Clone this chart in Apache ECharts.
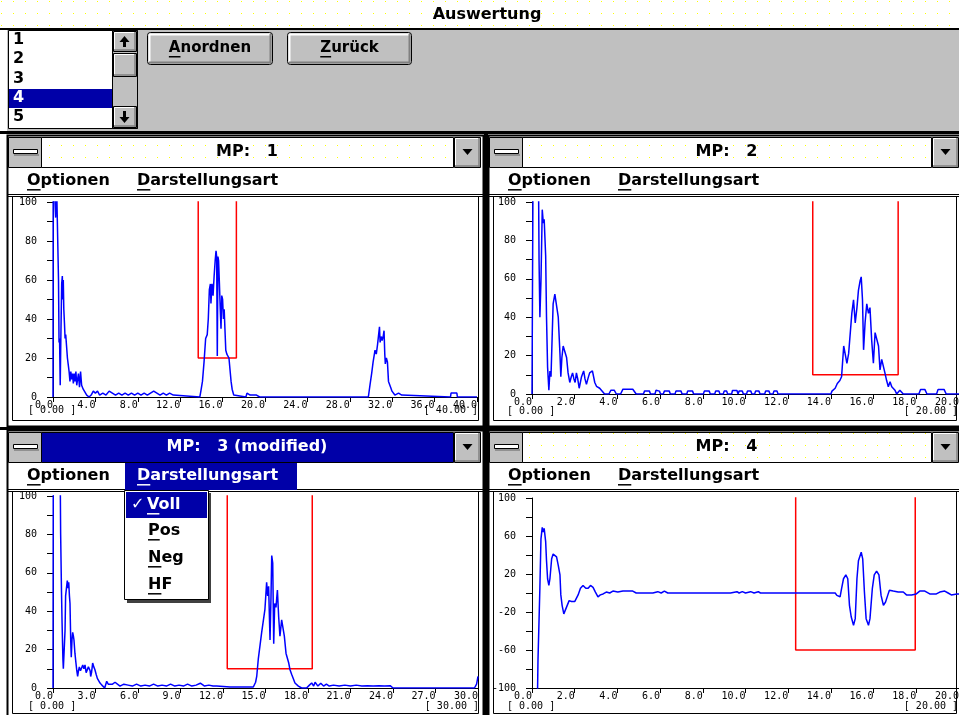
<!DOCTYPE html>
<html>
<head>
<meta charset="utf-8">
<title>Auswertung</title>
<script src="https://cdn.jsdelivr.net/npm/echarts@6/dist/echarts.min.js"></script>
<style>
html, body { margin: 0; padding: 0; background: #fff; }
#main { width: 959px; height: 715px; }
</style>
</head>
<body>
<div id="main"></div>
<script>
// ---- data ----
var listItems = ['1', '2', '3', '4', '5'];
var panelTitles = ['MP:   1', 'MP:   2', 'MP:   3 (modified)', 'MP:   4'];
var menuItems = ['Voll', 'Pos', 'Neg', 'HF'];

var xMaxes = [40, 20, 30, 20];
var xSteps = [4, 2, 3, 2];
var yMins = [0, 0, 0, -100];
var yMaxes = [100, 100, 100, 100];
var yTickSteps = [10, 10, 10, 20];
var yLabelSteps = [20, 20, 20, 40];

var boxLeft = [13.7, 13.15, 12.3, 12.35];
var boxRight = [17.3, 17.15, 18.3, 17.95];
var boxBottom = [20, 10, 10, -60];

var mp1Signal = [
  [0,0],[0.02,120],[0.2,120],[0.25,92],[0.3,120],[0.48,120],[0.52,60],[0.57,28],[0.62,30],[0.68,6],
  [0.74,30],[0.82,58],[0.88,62],[0.93,50],[0.97,60],[1.02,45],[1.08,38],[1.14,30],[1.2,32],[1.28,26],
  [1.36,20],[1.45,21],[1.52,13],[1.6,8],[1.68,13],[1.76,9],[1.84,12],[1.92,7],[2.0,12],[2.08,8],
  [2.16,13],[2.24,6],[2.32,9],[2.4,12],[2.5,5],[2.6,13],[2.7,6],[2.85,4],[3.0,3],[3.18,1],[3.4,0],
  [3.6,1],[3.8,3],[4.0,2],[4.2,3],[4.4,1],[4.7,2],[5.0,1],[5.3,3],[5.6,2],[5.9,1],[6.2,2],[6.5,1],
  [6.8,2],[7.1,1],[7.4,2],[7.7,1],[8.0,2],[8.3,1],[8.6,2],[8.9,1],[9.2,2],[9.5,3],[9.8,2],[10.1,1],
  [10.4,2],[10.7,1],[11.0,2],[11.35,1],[11.4,0],[13.85,0],
  [13.95,3],[14.1,8],[14.25,18],[14.4,30],[14.55,32],[14.65,40],[14.75,55],[14.85,58],[14.9,48],
  [15.0,58],[15.1,52],[15.2,62],[15.3,70],[15.38,75],[15.44,72],[15.5,21],[15.56,72],[15.62,70],
  [15.7,58],[15.78,45],[15.85,35],[15.92,52],[16.0,50],[16.08,40],[16.15,45],[16.22,35],[16.3,24],
  [16.4,22],[16.5,23],[16.6,20],[16.7,14],[16.8,8],[16.9,4],[17.05,1],[17.2,0],
  [18.2,0],[18.3,2],[18.45,3],[18.6,1],[18.75,2],[18.9,1],[19.05,2],[19.2,1],[19.35,2],[19.5,0],
  [29.75,0],[29.9,6],[30.06,12],[30.2,18],[30.38,24],[30.5,22],[30.62,27],[30.72,26],[30.8,36],
  [30.86,28],[30.95,31],[31.05,29],[31.15,31],[31.23,34],[31.3,22],[31.35,17],[31.45,20],[31.55,18],
  [31.65,8],[31.75,7],[31.85,5],[31.98,3],[32.1,2],[32.25,1],[32.42,0],[32.6,2],[32.75,3],[32.9,1],
  [33.05,0],[37.5,0],[37.55,2],[38.1,2],[38.15,0],[40,0]
];

var mp2Signal = [
  [0,0],[0.05,120],[0.3,120],[0.33,70],[0.37,40],[0.42,59],[0.48,96],[0.53,89],[0.57,91],[0.64,72],
  [0.68,40],[0.73,14],[0.79,2],[0.84,12],[0.89,9],[0.95,32],[0.99,47],[1.07,52],[1.15,51],[1.23,40],
  [1.31,21],[1.35,9],[1.4,19],[1.46,25],[1.54,26],[1.62,19],[1.69,11],[1.77,6],[1.84,9],[1.9,11],
  [1.96,8],[2.02,6],[2.08,11],[2.14,8],[2.21,3],[2.32,9],[2.42,12],[2.48,8],[2.55,5],[2.62,8],
  [2.7,11],[2.76,12],[2.83,12],[2.94,6],[3.02,4],[3.09,5],[3.17,3],[3.25,2],[3.4,0],[3.6,0],[3.7,2],
  [3.85,2],[3.95,0],[4.15,0],[4.26,2.5],[4.72,2.5],[4.88,0],[5.22,0],[5.27,1.5],[5.5,1.5],[5.55,0],
  [5.76,0],[5.81,2],[5.97,1.5],[6.02,0],[6.15,0],[6.2,1.5],[6.43,1.5],[6.48,0],[6.7,0],[6.74,1.5],
  [6.98,1.5],[7.03,0],[7.25,0],[7.29,1.5],[7.52,1.5],[7.57,0],[8.03,0],[8.07,1.5],[8.3,1.5],[8.35,0],
  [8.56,0],[8.6,1.5],[8.76,1.5],[8.8,0],[8.96,0],[9.0,1.5],[9.12,1.5],[9.16,0],[9.35,0],[9.39,1.8],
  [9.6,1.8],[9.65,0],[9.7,1.5],[9.85,1.5],[9.9,0],[10.05,0],[10.09,1.5],[10.25,1.5],[10.3,0],
  [10.43,0],[10.47,1.5],[10.63,1.5],[10.68,0],[10.9,0],[10.94,1.5],[11.1,1.5],[11.15,0],[11.29,0],
  [11.33,1.5],[11.48,1.5],[11.52,0],[14.0,0],
  [14.05,1.5],[14.2,3],[14.3,5.5],[14.42,7],[14.5,9],[14.6,25],[14.67,26],[14.75,16],[14.83,21],
  [14.98,42],[15.06,49],[15.14,37],[15.22,45],[15.29,54],[15.37,59],[15.42,61],[15.48,49],[15.53,23],
  [15.6,37],[15.68,47],[15.76,42],[15.83,45],[15.91,28],[15.99,16],[16.07,32],[16.15,32],[16.23,25],
  [16.3,12.5],[16.38,18],[16.46,18],[16.53,11],[16.61,7],[16.69,3.8],[16.77,6.4],[16.85,3.8],[17.0,2],
  [17.08,0],[17.16,0],[17.23,2],[17.3,2],[17.39,0],[18.12,0],[18.2,2.4],[18.4,2.4],[18.5,0],[18.95,0],
  [19.02,2.4],[19.3,2.4],[19.4,0],[20,0]
];

var mp3Signal = [
  [0,0],[0.02,120],[0.5,120],[0.54,80],[0.6,50],[0.64,34],[0.7,15],[0.73,10],[0.8,10],[0.85,30],
  [0.89,48],[0.95,52],[1.01,56],[1.06,52],[1.11,55],[1.16,48],[1.2,44],[1.25,25],[1.29,16],[1.34,25],
  [1.39,29],[1.44,27],[1.48,25],[1.55,18],[1.62,13],[1.68,9],[1.74,6],[1.8,9],[1.86,11],[1.94,9],
  [2.02,9.5],[2.1,12],[2.18,10],[2.26,12],[2.34,8],[2.42,8],[2.5,11],[2.56,12],[2.62,9],[2.66,6],
  [2.72,8],[2.8,13],[2.88,11],[2.96,9.5],[3.05,7],[3.13,5],[3.22,4],[3.32,2.6],[3.45,1.5],[3.55,1],
  [3.65,0],[3.79,3.5],[3.9,2],[4.02,1],[4.2,2],[4.38,3],[4.55,2],[4.73,1],[5.0,2],[5.3,1.5],[5.6,1],
  [5.9,2],[6.2,1],[6.5,1.5],[6.8,1],[7.1,2],[7.4,1],[7.7,1.5],[8.0,1],[8.3,2],[8.6,1],[8.9,1.5],
  [9.2,1],[9.5,2],[9.8,1],[10.1,1.5],[10.4,2.5],[10.7,1],[11.0,1.5],[11.3,1],[11.55,1],[12.5,0.5],
  [14.14,0.5],
  [14.3,3],[14.38,6],[14.49,15],[14.6,16],[14.73,29],[14.85,29],[14.96,41],[15.08,55],[15.15,48],
  [15.22,53],[15.32,25],[15.39,48],[15.44,69],[15.51,65],[15.58,23],[15.65,44],[15.74,42],[15.84,51],
  [15.93,37],[16.02,27],[16.14,35.5],[16.26,35],[16.33,27],[16.45,18],[16.54,18],[16.64,13],
  [16.73,9.5],[16.85,7],[16.96,6],[17.08,2.6],[17.32,1],[17.55,0],[17.9,0],[18.1,1.5],[18.26,2.6],
  [18.4,1],[18.5,3],[18.7,1],[18.9,2.5],[19.1,1],[19.3,2],[19.5,1],[19.8,1.5],[20.2,1],[20.6,1.5],
  [21.0,1],[21.4,1.5],[21.8,1],[22.2,1.2],[22.6,1],[23.0,1.2],[23.4,1],[23.8,1.2],[24.0,0],
  [29.75,0],[29.9,2],[30,6]
];

var mp4Signal = [
  [0.25,-120],[0.28,-71],[0.33,-71],[0.37,6],[0.42,57],[0.48,69],[0.53,64],[0.57,68],[0.64,54],
  [0.68,34],[0.73,15],[0.79,8],[0.84,15],[0.92,36],[0.99,41],[1.07,43],[1.15,38],[1.23,29],[1.31,19],
  [1.35,-2],[1.41,-13],[1.49,-22],[1.57,-20],[1.65,-13],[1.74,-8],[1.85,-9],[2.0,-9],[2.08,-9],
  [2.16,-2],[2.27,5],[2.39,8],[2.52,5],[2.63,5],[2.74,8],[2.86,6],[2.97,1],[3.09,-4],[3.2,-2],
  [3.33,-1],[3.48,1],[3.64,0],[3.79,2],[4.02,1],[4.26,2],[4.72,2],[4.88,0],[5.66,0],[5.89,1.4],
  [6.05,0],[6.2,2],[6.36,0],[7.99,0],[8.07,1.4],[8.14,0],[9.3,0],[9.39,1.4],[9.6,1.4],[9.7,0],
  [9.85,1.4],[10.0,0],[10.24,1.4],[10.4,0],[10.6,1.4],[10.7,0],[14.2,0],[14.28,-2.5],[14.43,-4],
  [14.5,4.5],[14.59,15],[14.7,19],[14.79,15],[14.87,-13],[14.95,-25],[15.06,-34],[15.14,-27],
  [15.22,15],[15.29,34],[15.42,43],[15.49,36],[15.57,1],[15.65,-27],[15.76,-34],[15.83,-27],
  [15.94,4.5],[16.03,19],[16.14,23],[16.25,19],[16.35,-2.5],[16.46,-13],[16.56,-9.5],[16.66,-2.5],
  [16.74,3],[16.92,2],[17.15,1],[17.39,1],[17.54,-2],[17.78,-2],[18.0,-1],[18.16,2],[18.4,2],
  [18.63,-1],[18.94,-1],[19.1,1],[19.33,2],[19.49,0],[19.64,-2],[19.9,-1],[20,-1]
];

var signals = [mp1Signal, mp2Signal, mp3Signal, mp4Signal];

// ---- layout ----
var grids = [
  { left: 53, top: 202, width: 424, height: 195 },
  { left: 532, top: 202, width: 427, height: 192 },
  { left: 53, top: 496, width: 425, height: 192 },
  { left: 532, top: 498, width: 427, height: 190 }
];
var rangeLabelY = [410, 411, 706, 706];

var BOLD16 = 'bold 16px "DejaVu Sans"';
var BOLD15 = 'bold 15px "DejaVu Sans"';
var MONO = '"DejaVu Sans Mono"';

var mctx = document.createElement('canvas').getContext('2d');
function tw(str, font) { mctx.font = font; return mctx.measureText(str).width; }

var dotCanvas = document.createElement('canvas');
dotCanvas.width = 12; dotCanvas.height = 12;
var dctx = dotCanvas.getContext('2d');
dctx.fillStyle = '#ffffff'; dctx.fillRect(0, 0, 12, 12);
dctx.fillStyle = '#ffff00'; dctx.fillRect(1, 1, 1, 1);
var dotted = { image: dotCanvas, repeat: 'repeat' };

var G = [];
function R(x, y, w, h, fill, stroke, z, lw, r) {
  G.push({ type: 'rect', silent: true, z: z == null ? -5 : z,
    shape: { x: x, y: y, width: w, height: h, r: r || 0 },
    style: { fill: fill || 'none', stroke: stroke || 'none', lineWidth: lw || 1 } });
}
function L(x1, y1, x2, y2, color, w, z) {
  G.push({ type: 'line', silent: true, z: z == null ? -4 : z,
    shape: { x1: x1, y1: y1, x2: x2, y2: y2 }, style: { stroke: color, lineWidth: w || 1 } });
}
function P(points, color, z) {
  G.push({ type: 'polygon', silent: true, z: z == null ? -3 : z,
    shape: { points: points }, style: { fill: color } });
}
function T(x, y, str, font, color, align, z) {
  G.push({ type: 'text', silent: true, z: z == null ? -2 : z, x: x, y: y,
    style: { text: str, font: font, fill: color, align: align || 'left', textAlign: align || 'left',
      verticalAlign: 'middle', textVerticalAlign: 'middle' } });
}
// text with the first letter underlined, left aligned at x
function UT(x, y, str, font, color, z, size) {
  T(x, y, str, font, color, 'left', z);
  L(x, y + size * 0.55, x + tw(str.charAt(0), font), y + size * 0.55, color, 1.5, z);
}
function bevel(x, y, w, h, z) {
  z = z == null ? -4 : z;
  R(x + 0.5, y + 0.5, w - 1, h - 1, '#c0c0c0', '#000', z);
  L(x + 1.5, y + 1.5, x + w - 2, y + 1.5, '#fff', 1, z + 0.1);
  L(x + 1.5, y + 1.5, x + 1.5, y + h - 2, '#fff', 1, z + 0.1);
  L(x + 1, y + h - 2, x + w - 1, y + h - 2, '#808080', 1.5, z + 0.1);
  L(x + w - 2, y + 1, x + w - 2, y + h - 1, '#808080', 1.5, z + 0.1);
}
function button(x, y, w, h, label) {
  R(x + 0.5, y + 0.5, w - 1, h - 1, '#c0c0c0', '#000', -5, 1, 3);
  L(x + 2, y + 2.5, x + w - 3, y + 2.5, '#fff', 2);
  L(x + 2.5, y + 2, x + 2.5, y + h - 3, '#fff', 2);
  L(x + 2, y + h - 2.5, x + w - 2, y + h - 2.5, '#808080', 2);
  L(x + w - 2.5, y + 2, x + w - 2.5, y + h - 2, '#808080', 2);
  var left = x + w / 2 - tw(label, BOLD15) / 2;
  UT(left, y + h / 2, label, BOLD15, '#000', -2, 15);
}

// main title bar and form area
R(0, 0, 959, 28, dotted, null, -8);
T(487, 15, 'Auswertung', BOLD16, '#000', 'center');
R(0, 28, 959, 2, '#000', null, -7);
R(7, 30, 952, 101, '#c0c0c0', null, -8);
R(0, 131, 959, 3, '#000', null, -7);

// list box
R(8.5, 30.5, 129, 98, '#fff', '#000', -6);
R(9, 89, 103, 19, '#0000a8', null, -5);
listItems.forEach(function (s, i) {
  T(13, 40 + i * 19.2, s, BOLD16, i === 3 ? '#fff' : '#000', 'left');
});
R(112.5, 30.5, 25, 98, '#c0c0c0', '#000', -5);
bevel(113, 31, 24, 21);
bevel(113, 53, 24, 24);
bevel(113, 106, 24, 22);
P([[124.5, 36], [119.5, 42], [129.5, 42]], '#000');
R(123, 42, 3, 5, '#000', null, -3);
P([[119.5, 117], [129.5, 117], [124.5, 123]], '#000');
R(123, 111, 3, 6, '#000', null, -3);

button(147, 32, 126, 33, 'Anordnen');
button(287, 32, 125, 33, 'Zurück');

// MDI child windows
function win(x0, y0, x1, y1, idx, active) {
  R(x0 + 0.5, y0 + 0.5, x1 - x0 - 1, y1 - y0 - 1, '#fff', '#000', -9, 2);
  R(x0 + 34.5, y0 + 2.5, x1 - x0 - 65, 30, active ? '#0000a8' : dotted, '#000', -8);
  var cx = (x0 + 34 + x1 - 31) / 2;
  T(cx, y0 + 17, panelTitles[idx], BOLD16, active ? '#fff' : '#000', 'center');
  R(x0 + 1.5, y0 + 2.5, 33, 30, '#c0c0c0', '#000', -7);
  R(x0 + 6.5, y0 + 14.5, 24, 4, '#fff', '#000', -6);
  L(x0 + 7, y0 + 20, x0 + 32, y0 + 20, '#808080', 1.5, -6);
  bevel(x1 - 30, y0 + 2, 27, 31);
  var tx = x1 - 16.5, ty = y0 + 17;
  P([[tx - 5, ty - 3], [tx + 5, ty - 3], [tx, ty + 3]], '#000');
  L(x0 + 1, y0 + 59.5, x1 - 1, y0 + 59.5, '#000', 1, -6);
  L(x0 + 1, y0 + 61.5, x1 - 1, y0 + 61.5, '#000', 1, -6);
  if (active) R(x0 + 118, y0 + 33, 172, 27, '#0000a8', null, -6);
  UT(x0 + 20, y0 + 46, 'Optionen', BOLD16, '#000', -2, 16);
  UT(x0 + 130, y0 + 46, 'Darstellungsart', BOLD16, active ? '#fff' : '#000', -2, 16);
  R(x0 + 5.5, y0 + 61.5, x1 - x0 - 11, y1 - y0 - 68, 'none', '#000', -6);
}
win(7, 135, 484, 427, 0, false);
win(488, 135, 962, 427, 1, false);
win(7, 430, 484, 720, 2, true);
win(488, 430, 962, 720, 3, false);
R(484, 134, 4, 581, '#000', null, -7);
R(0, 427, 959, 3, '#000', null, -7);

// open "Darstellungsart" drop-down in window 3
R(127, 493, 84, 110, '#404040', null, 100);
R(124.5, 490.5, 84, 109, '#fff', '#000', 101);
R(126, 492, 81, 26, '#0000a8', null, 102);
T(131, 505, '\u2713', BOLD16, '#fff', 'left', 103);
menuItems.forEach(function (s, i) {
  var y = [505, 531, 558, 585][i];
  UT(i === 0 ? 147 : 148, y, s, BOLD16, i === 0 ? '#fff' : '#000', 103, 16);
});

// range labels under the x axes
grids.forEach(function (g, i) {
  T(g.left - 25, rangeLabelY[i], '[ ' + (0).toFixed(2) + ' ]', '10px ' + MONO, '#000', 'left', 5);
  T(Math.min(g.left + g.width + 1, 958), rangeLabelY[i], '[ ' + xMaxes[i].toFixed(2) + ' ]', '10px ' + MONO, '#000', 'right', 5);
});

// ---- chart ----
var chart = echarts.init(document.getElementById('main'), null, { renderer: 'canvas' });

var xAxes = [], yAxes = [], series = [];
grids.forEach(function (g, i) {
  xAxes.push({
    gridIndex: i, type: 'value', min: 0, max: xMaxes[i], interval: xSteps[i],
    axisLine: { onZero: false, lineStyle: { color: '#000', width: 1 } },
    axisTick: { length: 5, lineStyle: { color: '#000' } },
    splitLine: { show: false },
    axisLabel: {
      margin: 3, align: 'right', color: '#000', fontFamily: MONO, fontSize: 10,
      showMinLabel: true, showMaxLabel: true,
      formatter: function (v) { return v.toFixed(1); }
    }
  });
  yAxes.push({
    gridIndex: i, type: 'value', min: yMins[i], max: yMaxes[i], interval: yTickSteps[i],
    axisLine: { onZero: false, lineStyle: { color: '#000', width: 1 } },
    axisTick: { length: 6, lineStyle: { color: '#000' } },
    splitLine: { show: false },
    axisLabel: {
      margin: 16, color: '#000', fontFamily: MONO, fontSize: 10,
      formatter: function (v) { return ((v - yMins[i]) % yLabelSteps[i] === 0) ? String(v) : ''; }
    }
  });
  series.push({
    type: 'line', xAxisIndex: i, yAxisIndex: i, data: signals[i],
    symbol: 'none', clip: true, silent: true, z: 3,
    lineStyle: { color: '#0000ff', width: 1.5 }
  });
  var top = yMaxes[i] + 20;
  series.push({
    type: 'line', xAxisIndex: i, yAxisIndex: i, symbol: 'none', clip: true, silent: true, z: 2,
    data: [[boxLeft[i], top], [boxLeft[i], boxBottom[i]], [boxRight[i], boxBottom[i]], [boxRight[i], top]],
    lineStyle: { color: '#ff0000', width: 1.5 }
  });
});

chart.setOption({
  animation: false,
  backgroundColor: '#ffffff',
  grid: grids.map(function (g) {
    return { left: g.left, top: g.top, width: g.width, height: g.height,
      containLabel: false, outerBoundsMode: 'none' };
  }),
  xAxis: xAxes,
  yAxis: yAxes,
  series: series,
  graphic: { elements: G }
});
</script>
</body>
</html>
